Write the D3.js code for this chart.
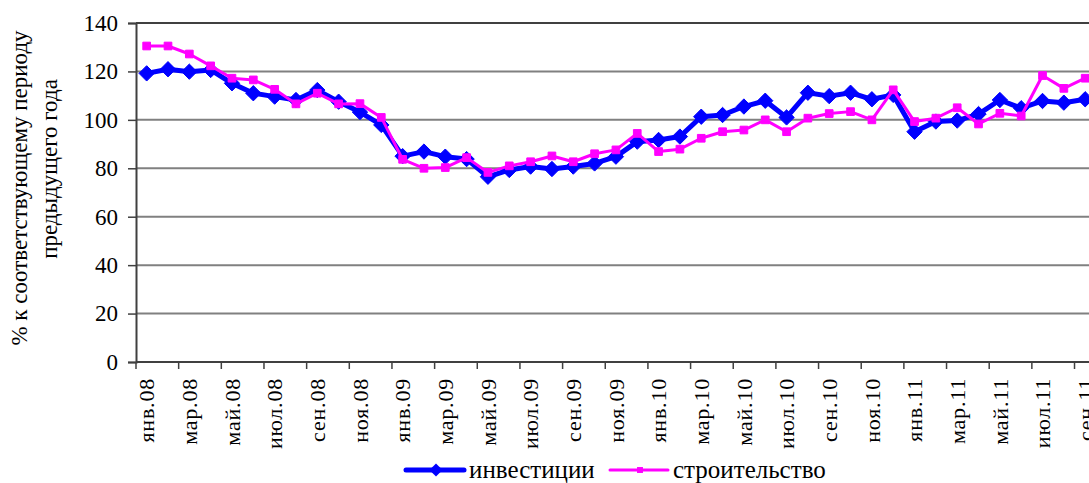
<!DOCTYPE html>
<html>
<head>
<meta charset="utf-8">
<script src="https://cdn.jsdelivr.net/npm/d3@7"></script>
<style>
  body { margin: 0; background: #fff; }
  text { font-family: "Liberation Serif", "Times New Roman", serif; fill: #000; }
</style>
</head>
<body>
<div id="holder"></div>
<script>
const w = 1089;
const h = 483;

// DATA
const monthNames = ["янв", "фев", "мар", "апр", "май", "июн", "июл", "авг", "сен", "окт", "ноя", "дек"];
const years = ["08", "09", "10", "11"];
const months = [];
years.forEach(y => monthNames.forEach(m => months.push(m + "." + y)));
months.length = 45; // янв.08 .. сен.11

const investments = [
  119.2, 120.9, 119.9, 120.6, 115.1, 111.0, 109.6, 108.2, 112.3, 107.5, 103.2, 97.9,
  85.0, 86.9, 84.8, 83.8, 76.5, 79.3, 80.7, 79.7, 80.7, 82.0, 84.8, 91.0,
  91.7, 93.1, 101.3, 102.0, 105.5, 107.9, 101.0, 111.2, 109.8, 111.2, 108.5, 110.3,
  95.1, 99.3, 99.7, 102.4, 108.2, 104.8, 107.8, 107.1, 108.5
];
const construction = [
  130.5, 130.5, 127.2, 122.3, 117.2, 116.5, 112.6, 106.6, 111.0, 106.6, 106.7, 101.0,
  83.7, 80.0, 80.3, 84.4, 78.3, 81.0, 82.7, 85.1, 82.7, 86.0, 87.6, 94.4,
  86.9, 87.9, 92.4, 95.1, 95.8, 100.0, 95.1, 100.7, 102.6, 103.4, 100.0, 112.4,
  99.3, 100.7, 105.0, 98.3, 102.7, 101.6, 118.3, 113.0, 117.2
];
const yTicks = [0, 20, 40, 60, 80, 100, 120, 140];

const series = [
  { name: "инвестиции", values: investments, color: "#0000ff", width: 5, marker: "diamond" },
  { name: "строительство", values: construction, color: "#ff00ff", width: 3, marker: "square" }
];

// LAYOUT
const plotLeft = 136, plotTop = 23, plotBottom = 362;
const step = 21.33;

const svg = d3.select("#holder")
  .append("svg")
  .attr("width", w)
  .attr("height", h);

const xScale = d3.scaleBand()
  .domain(months)
  .range([plotLeft, plotLeft + months.length * step])
  .padding(0);

const yScale = d3.scaleLinear()
  .domain([0, 140])
  .range([plotBottom, plotTop]);

const xc = d => xScale(d) + xScale.bandwidth() / 2;

// GRID
svg.append("g")
  .selectAll("line")
  .data(yTicks.filter(d => d > 0))
  .enter()
  .append("line")
  .attr("x1", plotLeft)
  .attr("x2", w)
  .attr("y1", d => yScale(d))
  .attr("y2", d => yScale(d))
  .attr("stroke", d => d === 140 ? "#404040" : "#808080")
  .attr("stroke-width", 2);

// Y AXIS
const yAxis = d3.axisLeft(yScale)
  .tickValues(yTicks)
  .tickSize(8)
  .tickPadding(10);

const gy = svg.append("g")
  .attr("transform", `translate(${plotLeft},0)`)
  .call(yAxis);
gy.select(".domain").attr("stroke", "#404040").attr("stroke-width", 2);
gy.selectAll(".tick line").attr("stroke", "#404040").attr("stroke-width", 1.5);
gy.selectAll(".tick text")
  .style("font-size", "23px")
  .attr("fill", "#000");

// X AXIS
svg.append("line")
  .attr("x1", plotLeft)
  .attr("x2", w)
  .attr("y1", plotBottom)
  .attr("y2", plotBottom)
  .attr("stroke", "#404040")
  .attr("stroke-width", 2);

const tickIdx = d3.range(0, months.length + 1, 2);
svg.append("g")
  .selectAll("line")
  .data(tickIdx)
  .enter()
  .append("line")
  .attr("x1", i => plotLeft + i * xScale.step())
  .attr("x2", i => plotLeft + i * xScale.step())
  .attr("y1", plotBottom)
  .attr("y2", plotBottom + 7)
  .attr("stroke", "#404040")
  .attr("stroke-width", 1.5);

svg.append("g")
  .selectAll("text")
  .data(months.filter((d, i) => i % 2 === 0))
  .enter()
  .append("text")
  .attr("transform", d => `translate(${xc(d)},${plotBottom + 16}) rotate(-90)`)
  .attr("text-anchor", "end")
  .attr("dy", "0.35em")
  .style("font-size", "22px")
  .style("letter-spacing", "0.8px")
  .text(d => d);

// Y TITLE
svg.append("text")
  .attr("transform", `translate(27,188) rotate(-90)`)
  .attr("text-anchor", "middle")
  .style("font-size", "23px")
  .text("% к соответствующему периоду");
svg.append("text")
  .attr("transform", `translate(57,169) rotate(-90)`)
  .attr("text-anchor", "middle")
  .style("font-size", "23px")
  .text("предыдущего года");

// LINES
const line = d3.line()
  .x((d, i) => xc(months[i]))
  .y(d => yScale(d));

const diamond = d3.symbol().type(d3.symbolDiamond2).size(150);
const square = d3.symbol().type(d3.symbolSquare2).size(75);

series.forEach(s => {
  svg.append("path")
    .datum(s.values)
    .attr("fill", "none")
    .attr("stroke", s.color)
    .attr("stroke-width", s.width)
    .attr("stroke-linejoin", "round")
    .attr("d", line);

  svg.append("g")
    .selectAll("path")
    .data(s.values)
    .enter()
    .append("path")
    .attr("transform", (d, i) => `translate(${xc(months[i])},${yScale(d)})`)
    .attr("d", s.marker === "diamond" ? diamond : square)
    .attr("fill", s.color)
    .attr("stroke", s.color)
    .attr("stroke-width", 1);
});

// LEGEND
const legendPos = [406, 610];
const legendDiamond = d3.symbol().type(d3.symbolDiamond2).size(110);
const legendSquare = d3.symbol().type(d3.symbolSquare2).size(45);
const lg = svg.append("g");
series.forEach((s, i) => {
  const x0 = legendPos[i];
  lg.append("line")
    .attr("x1", x0).attr("x2", x0 + 58)
    .attr("y1", 470).attr("y2", 470)
    .attr("stroke", s.color)
    .attr("stroke-width", s.width)
    .attr("stroke-linecap", "round");
  lg.append("path")
    .attr("transform", `translate(${x0 + 30},470)`)
    .attr("d", s.marker === "diamond" ? legendDiamond : legendSquare)
    .attr("fill", s.color);
  lg.append("text")
    .attr("x", x0 + 63)
    .attr("y", 470)
    .attr("dy", "0.33em")
    .style("font-size", "25px")
    .text(s.name);
});
</script>
</body>
</html>
